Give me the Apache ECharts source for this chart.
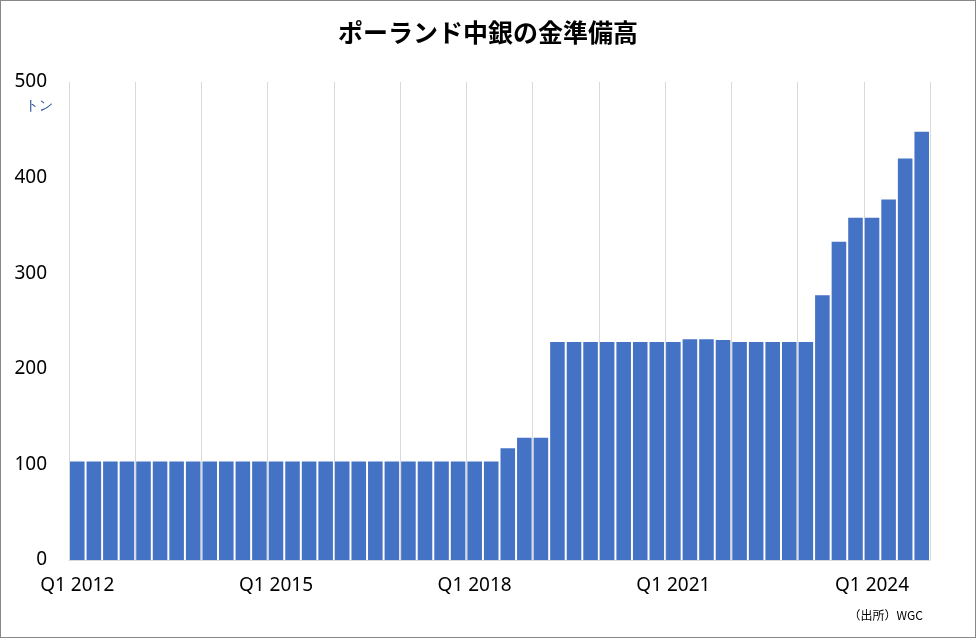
<!DOCTYPE html>
<html>
<head>
<meta charset="utf-8">
<script src="https://cdn.jsdelivr.net/npm/echarts@6/dist/echarts.min.js"></script>
<style>
  html, body { margin: 0; padding: 0; background: #fff; }
  #chart { width: 974px; height: 636px; border: 1px solid #888; }
</style>
</head>
<body>
<div id="chart"></div>
<script>
// 四半期ラベル
const years = [2012, 2013, 2014, 2015, 2016, 2017, 2018, 2019, 2020, 2021, 2022, 2023, 2024];
const quarters = [];
years.forEach(function (y) {
  for (let q = 1; q <= 4; q++) quarters.push('Q' + q + ' ' + y);
});

// 金準備高（トン）
const reserves = [
  103, 103, 103, 103, 103, 103, 103, 103, 103, 103, 103, 103, 103,
  103, 103, 103, 103, 103, 103, 103, 103, 103, 103, 103, 103, 103,
  117, 128, 128,
  228, 228, 228, 228, 228, 228, 228, 228,
  231, 231, 230,
  228, 228, 228, 228, 228,
  277, 333, 358, 358, 377, 420, 448
];

const yTicks = [0, 100, 200, 300, 400, 500];

const myEchart = echarts.init(document.getElementById('chart'));
const option = {
  animation: false,
  title: {
    text: 'ポーランド中銀の金準備高',
    left: 'center',
    top: 14,
    textStyle: { fontSize: 25, fontWeight: 'bold', color: '#000', fontFamily: 'Noto Sans CJK JP' }
  },
  grid: { left: 68, right: 45, top: 81, bottom: 77 },
  xAxis: {
    type: 'category',
    data: quarters,
    axisTick: { show: false },
    axisLine: { lineStyle: { color: '#d9d9d9' } },
    axisLabel: {
      interval: 11,
      color: '#000',
      fontSize: 19,
      fontFamily: 'Noto Sans',
      margin: 16
    },
    splitLine: { show: true, interval: 3, lineStyle: { color: '#d9d9d9' } }
  },
  yAxis: {
    type: 'value',
    min: yTicks[0],
    max: yTicks[yTicks.length - 1],
    interval: 100,
    axisLine: { show: false },
    axisTick: { show: false },
    splitLine: { show: false },
    axisLabel: { color: '#000', fontSize: 19, fontFamily: 'Noto Sans', margin: 22 }
  },
  graphic: [
    { type: 'text', left: 24, top: 98, style: { text: 'トン', fontSize: 14, fill: '#2f5597', font: '14px "Noto Sans CJK JP"' } },
    { type: 'text', right: 52, top: 608, style: { text: '（出所）WGC', fill: '#000', font: '12px "Noto Sans CJK JP"' } }
  ],
  series: [
    {
      type: 'bar',
      data: reserves,
      barCategoryGap: '12%',
      itemStyle: { color: '#4472c4' }
    }
  ]
};
myEchart.setOption(option, true);
</script>
</body>
</html>
